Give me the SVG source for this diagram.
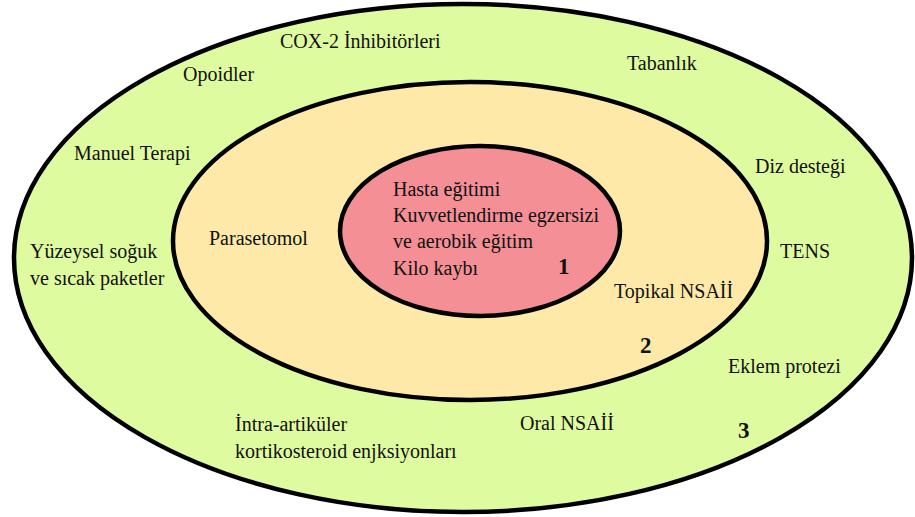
<svg xmlns="http://www.w3.org/2000/svg" width="915" height="517" viewBox="0 0 915 517">
<style>
.ring{stroke:#000;stroke-width:4.5}
.t{font-family:"Liberation Serif","Times New Roman",serif;font-size:20px;fill:#111}
.n{font-family:"Liberation Serif","Times New Roman",serif;font-size:23px;font-weight:bold;fill:#111}
</style>
<rect width="915" height="517" fill="#fff"/>
<g id="ring3">
<ellipse class="ring" cx="463" cy="258" rx="449" ry="254" fill="#DFFB9F"/>
<text class="t" x="280" y="48">COX-2 İnhibitörleri</text>
<text class="t" x="183" y="81">Opoidler</text>
<text class="t" x="627" y="70">Tabanlık</text>
<text class="t" x="74" y="160">Manuel Terapi</text>
<text class="t" x="755" y="173">Diz desteği</text>
<text class="t" x="30" y="258">Yüzeysel soğuk</text>
<text class="t" x="30" y="285">ve sıcak paketler</text>
<text class="t" x="780" y="258">TENS</text>
<text class="t" x="728" y="373">Eklem protezi</text>
<text class="t" x="520" y="430">Oral NSAİİ</text>
<text class="t" x="235" y="431">İntra-artiküler</text>
<text class="t" x="235" y="458">kortikosteroid enjksiyonları</text>
<text class="n" x="738" y="438">3</text>
</g>
<g id="ring2">
<ellipse class="ring" cx="470" cy="241" rx="297" ry="159" fill="#FEE9A8"/>
<text class="t" x="209" y="245">Parasetomol</text>
<text class="t" x="614" y="298">Topikal NSAİİ</text>
<text class="n" x="640" y="353">2</text>
</g>
<g id="ring1">
<ellipse class="ring" cx="480" cy="231" rx="140" ry="85" fill="#F48F96"/>
<text class="t" x="393" y="196">Hasta eğitimi</text>
<text class="t" x="393" y="222">Kuvvetlendirme egzersizi</text>
<text class="t" x="393" y="248">ve aerobik eğitim</text>
<text class="t" x="393" y="275">Kilo kaybı</text>
<text class="n" x="558" y="274">1</text>
</g>
<g id="connectors"/>
</svg>
